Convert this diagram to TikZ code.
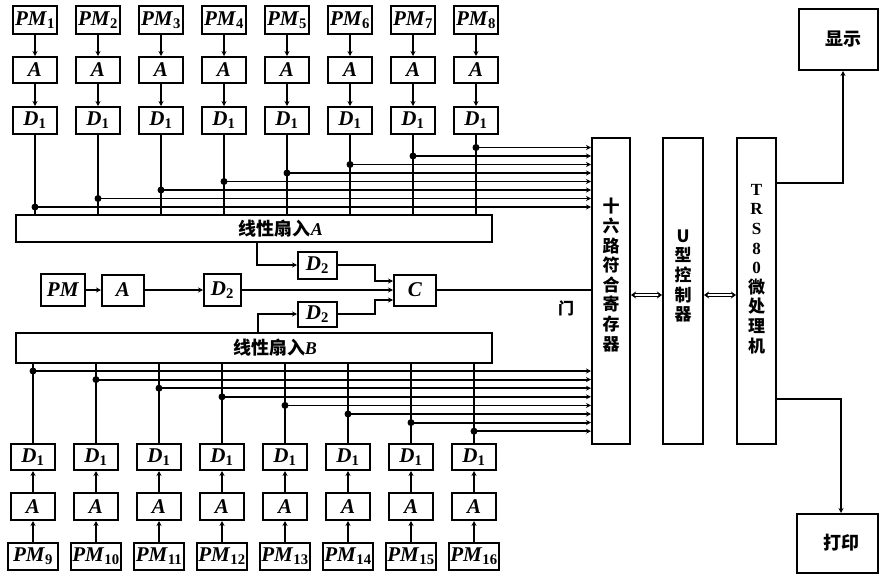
\documentclass[tikz,border=0pt]{standalone}
\usepackage{fontspec}
\setmainfont{Liberation Serif}
\newfontfamily\cjk{Noto Sans CJK SC}
\usetikzlibrary{arrows.meta,calc}
\newcommand\lab[2]{\textbf{\textit{#1}}\textsubscript{\textbf{#2}}}
\newcommand\latn[1]{{\rmfamily\bfseries #1}}
\begin{document}
\begin{tikzpicture}[x=1pt,y=-1pt,
  box/.style={draw,line width=2pt,inner sep=0pt,font=\fontsize{21}{22}\selectfont},
  wire/.style={line width=1.8pt},
  arr/.style={wire,-{Stealth[length=5pt,width=5pt]}},
  jdot/.style={circle,fill,inner sep=0pt,minimum size=7pt},
  cjkb/.style={font=\cjk\bfseries\fontsize{18}{20}\selectfont},
  vtext/.style={font=\cjk\bfseries\fontsize{17}{19.6}\selectfont,align=center,inner sep=0pt},
  dbl/.style={line width=1.3pt,double distance=2pt,{Stealth[length=5pt,width=7pt]}-{Stealth[length=5pt,width=7pt]}}
]
\useasboundingbox (0,0) rectangle (881,576);

% right-side blocks
\node[box,minimum width=38,minimum height=306] (reg) at (611,291) {};
\node[vtext] (regt) at (611,275) {十\\六\\路\\符\\合\\寄\\存\\器};
\node[box,minimum width=40,minimum height=306] (ctl) at (683,291) {};
\node[vtext] (ctlt) at (683,276) {U\\型\\控\\制\\器};
\node[box,minimum width=39,minimum height=306] (trs) at (756.5,291) {};
\node[vtext] (trst) at (756.5,269) {\latn{T}\\\latn{R}\\\latn{S}\\\latn{8}\\\latn{0}\\微\\处\\理\\机};
\node[box,minimum width=79,minimum height=61] (disp) at (838.5,39.5) {};
\node[cjkb] (dispt) at (843,39) {显示};
\node[box,minimum width=81,minimum height=59] (prn) at (837.5,543.5) {};
\node[cjkb] (prnt) at (841,543) {打印};

\coordinate (ly) at (0,295);
\draw[dbl] (reg.east |- ly) -- (ctl.west |- ly);
\draw[dbl] (ctl.east |- ly) -- (trs.west |- ly);
\coordinate (dy) at (843,183);
\draw[arr] (trs.east |- dy) -| (disp.south -| dy);
\coordinate (py) at (841,399);
\draw[arr] (trs.east |- py) -| (prn.north -| py);

% fan-in boxes
\node[box,minimum width=476,minimum height=27] (fanA) at (254,228.5) {};
\node[cjkb] (fanAt) at (281,229) {线性扇入\textbf{\textit{\rmfamily A}}};
\node[box,minimum width=476,minimum height=30] (fanB) at (254,348) {};
\node[cjkb] (fanBt) at (275,348) {线性扇入\textbf{\textit{\rmfamily B}}};

% top channels
\foreach \i in {1,...,8} {
  \pgfmathsetmacro\cx{35+63*(\i-1)}
  \pgfmathsetmacro\ty{207-8.5*(\i-1)}
  \node[box,minimum width=44,minimum height=28] (tp\i) at (\cx,20) {\lab{PM}{\i}};
  \node[box,minimum width=44,minimum height=26] (ta\i) at (\cx,70) {\textbf{\textit{A}}};
  \node[box,minimum width=44,minimum height=27] (td\i) at (\cx,120.5) {\lab{D}{1}};
  \draw[arr] (tp\i) -- (ta\i);
  \draw[arr] (ta\i) -- (td\i);
  \coordinate (tj\i) at (\cx,\ty);
  \draw[wire] (td\i.south) -- (td\i.south |- fanA.north);
  \node[jdot] at (tj\i) {};
  \draw[arr] (tj\i) -- (tj\i -| reg.west);
}

% bottom channels
\foreach \i/\n in {1/9,2/10,3/11,4/12,5/13,6/14,7/15,8/16} {
  \pgfmathsetmacro\cx{33+63*(\i-1)}
  \pgfmathsetmacro\by{371+8.6*(\i-1)}
  \node[box,minimum width=44,minimum height=26] (bd\i) at (\cx,457) {\lab{D}{1}};
  \node[box,minimum width=44,minimum height=27] (ba\i) at (\cx,506.5) {\textbf{\textit{A}}};
  \node[box,minimum width=50,minimum height=27] (bp\i) at (\cx,556.5) {\lab{PM}{\n}};
  \draw[arr] (bp\i) -- (ba\i);
  \draw[arr] (ba\i) -- (bd\i);
  \coordinate (bj\i) at (\cx,\by);
  \draw[wire] (bd\i.north) -- (bd\i.north |- fanB.south);
  \node[jdot] at (bj\i) {};
  \draw[arr] (bj\i) -- (bj\i -| reg.west);
}

% middle chain
\node[box,minimum width=44,minimum height=32] (mp) at (63,290) {\textbf{\textit{PM}}};
\node[box,minimum width=42,minimum height=31] (ma) at (123,290) {\textbf{\textit{A}}};
\node[box,minimum width=37,minimum height=32] (md) at (222.5,290) {\lab{D}{2}};
\node[box,minimum width=39,minimum height=27] (du) at (317.5,265) {\lab{D}{2}};
\node[box,minimum width=39,minimum height=25] (dl) at (317.5,314) {\lab{D}{2}};
\node[box,minimum width=42,minimum height=31] (cc) at (415,290) {\textbf{\textit{C}}};
\draw[arr] (mp) -- (ma);
\draw[arr] (ma) -- (md);
\draw[arr] (md) -- (cc);
\draw[arr] ($(fanA.south west)+(242,0)$) |- (du.west);
\draw[arr] ($(fanB.north west)+(243,0)$) |- (dl.west);
\draw[arr] (du.east) -- ++(37,0) |- ($(cc.west)+(0,-9)$);
\draw[arr] (dl.east) -- ++(37,0) |- ($(cc.west)+(0,10)$);
\draw[wire] (cc.east) -- (cc.east -| reg.west);
\node[cjkb,font=\cjk\bfseries\fontsize{16}{18}\selectfont] (gate) at (566,308) {门};
\end{tikzpicture}
\end{document}
